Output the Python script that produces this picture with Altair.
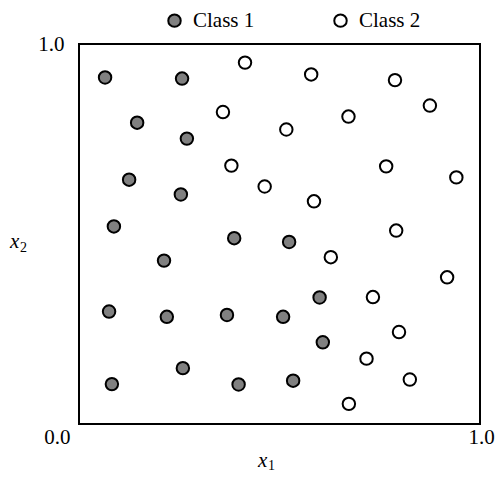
import altair as alt
import pandas as pd

class1_x = [0.065, 0.257, 0.145, 0.269, 0.125, 0.254, 0.087, 0.212, 0.387, 0.524,
            0.075, 0.219, 0.369, 0.509, 0.600, 0.608, 0.082, 0.259, 0.398, 0.534]
class1_y = [0.912, 0.909, 0.793, 0.751, 0.643, 0.604, 0.520, 0.430, 0.489, 0.479,
            0.296, 0.282, 0.287, 0.282, 0.333, 0.215, 0.105, 0.147, 0.104, 0.114]
class2_x = [0.414, 0.579, 0.788, 0.875, 0.359, 0.672, 0.517, 0.380, 0.463, 0.586,
            0.766, 0.941, 0.791, 0.628, 0.918, 0.733, 0.798, 0.717, 0.825, 0.673]
class2_y = [0.951, 0.920, 0.905, 0.838, 0.821, 0.809, 0.775, 0.680, 0.625, 0.586,
            0.678, 0.649, 0.509, 0.439, 0.386, 0.334, 0.242, 0.172, 0.117, 0.053]
classes = ["Class 1", "Class 2"]
fills = ["#808080", "#ffffff"]
axis_var = ["x"]
sub_x = ["1"]
sub_y = ["2"]

df = pd.DataFrame({
    "x1": class1_x + class2_x,
    "x2": class1_y + class2_y,
    "cls": [classes[0]] * len(class1_x) + [classes[1]] * len(class2_x),
})

FONT = "Liberation Serif"
FS = 21

points = alt.Chart(df).mark_circle(
    size=155, opacity=1, stroke="black", strokeWidth=2
).encode(
    x=alt.X("x1:Q", scale=alt.Scale(domain=[0, 1], nice=False),
            axis=alt.Axis(values=[0, 1], format=".1f", grid=False, domain=False, ticks=False,
                          labelFont=FONT, labelFontSize=FS, labelColor="black",
                          labelPadding=2,
                          labelAlign={"condition": {"test": "datum.value < 0.5", "value": "right"}, "value": "left"},
                          labelOffset={"condition": {"test": "datum.value < 0.5", "value": -9}, "value": -12},
                          title=None)),
    y=alt.Y("x2:Q", scale=alt.Scale(domain=[0, 1], nice=False),
            axis=alt.Axis(values=[1], format=".1f", grid=False, domain=False, ticks=False,
                          labelFont=FONT, labelFontSize=FS, labelColor="black",
                          labelPadding=15, title=None)),
    fill=alt.Fill("cls:N", scale=alt.Scale(domain=classes, range=fills),
                  legend=alt.Legend(title=None, orient="none", legendX=85, legendY=-34,
                                    direction="horizontal", columnPadding=75,
                                    labelFont=FONT, labelFontSize=FS, labelColor="black",
                                    labelOffset=8, symbolType="circle", symbolSize=155,
                                    symbolStrokeColor="black", symbolStrokeWidth=2,
                                    symbolOpacity=1)),
)

var_df = pd.DataFrame({"t": axis_var})
x_var = alt.Chart(var_df).mark_text(
    font=FONT, fontSize=FS, fontStyle="italic", align="left", baseline="alphabetic", color="black"
).encode(x=alt.value(179), y=alt.value(423), text="t:N")
x_sub = alt.Chart(pd.DataFrame({"t": sub_x})).mark_text(
    font=FONT, fontSize=14, align="left", baseline="alphabetic", color="black"
).encode(x=alt.value(189), y=alt.value(426), text="t:N")
y_var = alt.Chart(var_df).mark_text(
    font=FONT, fontSize=FS, fontStyle="italic", align="left", baseline="alphabetic", color="black"
).encode(x=alt.value(-69), y=alt.value(204), text="t:N")
y_sub = alt.Chart(pd.DataFrame({"t": sub_y})).mark_text(
    font=FONT, fontSize=14, align="left", baseline="alphabetic", color="black"
).encode(x=alt.value(-59), y=alt.value(208), text="t:N")

chart = alt.layer(points, x_var, x_sub, y_var, y_sub).properties(
    width=401, height=380,
    padding={"left": 71, "top": 36, "right": 16, "bottom": 49},
    autosize="none",
).configure_view(
    stroke="black", strokeWidth=2
)

chart.save("out.html", embed_options={"renderer": "svg", "actions": False})
